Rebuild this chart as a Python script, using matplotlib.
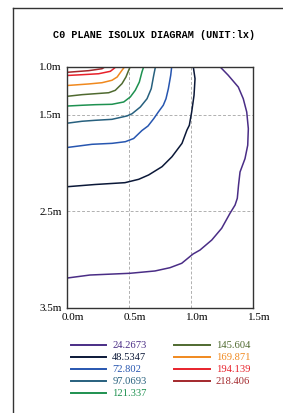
import matplotlib
matplotlib.use('Agg')
import matplotlib.pyplot as plt
from matplotlib.lines import Line2D
from matplotlib import transforms as mtrans

# isolux levels and their colours
levels = ['24.2673', '48.5347', '72.802', '97.0693', '121.337',
          '145.604', '169.871', '194.139', '218.406']
colors = ['#4a2d86', '#0b1838', '#2756b0', '#27607e', '#1e9150',
          '#4f6a30', '#f0891e', '#e8212b', '#a3282c']

# contour traces (x in m, y in m)
x_24 = [0, 0.183, 0.506, 0.707, 0.828, 0.923, 1.014, 1.070, 1.165, 1.245, 1.312,
        1.353, 1.371, 1.381, 1.393, 1.433, 1.455, 1.460, 1.447, 1.419, 1.379, 1.298, 1.231]
y_24 = [3.192, 3.161, 3.143, 3.119, 3.085, 3.039, 2.943, 2.902, 2.798, 2.676, 2.521,
        2.435, 2.365, 2.227, 2.092, 1.954, 1.815, 1.643, 1.470, 1.332, 1.211, 1.089, 1.0]
x_48 = [0, 0.224, 0.465, 0.576, 0.656, 0.764, 0.844, 0.925, 0.965, 0.984, 1.003, 1.022, 1.030, 1.016]
y_48 = [2.245, 2.222, 2.203, 2.168, 2.123, 2.037, 1.934, 1.795, 1.657, 1.608, 1.470, 1.297, 1.124, 1.0]
x_72 = [0, 0.199, 0.361, 0.468, 0.535, 0.602, 0.651, 0.697, 0.734, 0.774, 0.796, 0.815, 0.834, 0.842]
y_72 = [1.838, 1.805, 1.795, 1.778, 1.745, 1.662, 1.615, 1.539, 1.470, 1.400, 1.332, 1.228, 1.089, 1.0]
x_97 = [0, 0.119, 0.226, 0.360, 0.481, 0.522, 0.589, 0.643, 0.677, 0.697, 0.711]
y_97 = [1.586, 1.566, 1.556, 1.546, 1.511, 1.488, 1.418, 1.332, 1.228, 1.089, 1.0]
x_121 = [0, 0.119, 0.226, 0.360, 0.455, 0.508, 0.548, 0.581, 0.602, 0.616]
y_121 = [1.408, 1.400, 1.394, 1.390, 1.366, 1.314, 1.245, 1.159, 1.055, 1.0]
x_145 = [0, 0.119, 0.226, 0.334, 0.387, 0.441, 0.473, 0.495, 0.508]
y_145 = [1.307, 1.290, 1.280, 1.270, 1.245, 1.176, 1.107, 1.037, 1.0]
x_169 = [0, 0.173, 0.280, 0.360, 0.402, 0.441, 0.463]
y_169 = [1.195, 1.179, 1.166, 1.141, 1.107, 1.037, 1.0]
x_194 = [0, 0.119, 0.253, 0.347, 0.374, 0.393]
y_194 = [1.091, 1.083, 1.073, 1.048, 1.021, 1.0]
x_218 = [0, 0.173, 0.280, 0.306]
y_218 = [1.058, 1.041, 1.021, 1.0]

xs = [x_24, x_48, x_72, x_97, x_121, x_145, x_169, x_194, x_218]
ys = [y_24, y_48, y_72, y_97, y_121, y_145, y_169, y_194, y_218]

x_ticks = [0.0, 0.5, 1.0, 1.5]
x_labels = ['0.0m', '0.5m', '1.0m', '1.5m']
y_ticks = [1.0, 1.5, 2.5, 3.5]
y_labels = ['1.0m', '1.5m', '2.5m', '3.5m']

W, H = 283, 413
fig = plt.figure(figsize=(W / 100, H / 100), dpi=100)
ax = fig.add_axes([67.3 / W, 1 - 307.7 / H, 186 / W, 241 / H])

for x, y, c, lab in zip(xs, ys, colors, levels):
    ax.plot(x, y, color=c, lw=1.1, label=lab)

ax.set_xlim(0, 1.5)
ax.set_ylim(3.5, 1.0)
ax.set_xticks(x_ticks)
ax.set_xticklabels(x_labels, family='Liberation Serif', fontsize=8)
ax.set_yticks(y_ticks)
ax.set_yticklabels(y_labels, family='Liberation Serif', fontsize=8)
ax.tick_params(length=0, pad=4)
# labels sit a bit right of the tick
off = mtrans.ScaledTranslation(6 / 100, 0, fig.dpi_scale_trans)
for t in ax.get_xticklabels():
    t.set_transform(t.get_transform() + off)
ax.grid(True, color='#b0b0b0', ls=(0, (3, 2)), lw=0.7)
for s in ax.spines.values():
    s.set_color('#333333')
    s.set_linewidth(1.0)

fig.text(154 / W, 1 - 35 / H, 'C0 PLANE ISOLUX DIAGRAM (UNIT:lx)',
         family='Liberation Mono', weight='bold', fontsize=7.3,
         ha='center', va='center')

leg = ax.legend(ncol=2, frameon=False, loc='upper left',
                bbox_to_anchor=(70.5 / W, 1 - 341 / H), bbox_transform=fig.transFigure,
                prop={'family': 'Liberation Serif', 'size': 7.6},
                labelcolor='linecolor', handlelength=3.4, handletextpad=0.55,
                columnspacing=2.6, labelspacing=0.25, borderaxespad=0, borderpad=0)
for h in leg.get_lines():
    h.set_linewidth(1.4)

# outer frame (top and left edges only visible)
fig.add_artist(Line2D([13 / W, 1.05], [1 - 8 / H, 1 - 8 / H], color='#333333', lw=1.0,
                      transform=fig.transFigure))
fig.add_artist(Line2D([13 / W, 13 / W], [-0.05, 1 - 8 / H], color='#333333', lw=1.0,
                      transform=fig.transFigure))

fig.savefig('out.png', dpi=100)
